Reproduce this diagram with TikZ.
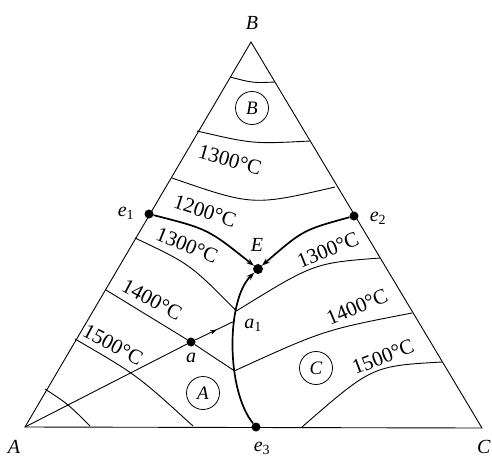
\documentclass[tikz,border=0pt]{standalone}
\usepackage{fontspec}
\setmainfont{Liberation Serif}
\usetikzlibrary{arrows.meta,decorations.markings}

\begin{document}
\begin{tikzpicture}[x=1pt, y=-1pt,
  iso/.style={line width=0.9pt},
  bnd/.style={line width=1.7pt},
  tip/.style={-{Stealth[length=8pt,width=5.5pt]}},
  dot/.style={circle, fill=black, inner sep=0pt, minimum size=9pt},
  temp/.style={font=\fontsize{21}{24}\selectfont, inner sep=0pt},
  lbl/.style={font=\fontsize{20}{22}\selectfont\itshape, inner sep=1pt},
  phase/.style={draw, circle, line width=0.8pt, minimum size=33pt, inner sep=0pt,
    font=\fontsize{19}{21}\selectfont\itshape}
]
\useasboundingbox (0,0) rectangle (492,458);

% triangle
\coordinate (A) at (25,427);
\coordinate (B) at (251,42);
\coordinate (C) at (482,428);
\draw[iso] (A) -- (B) -- (C) -- cycle;

% eutectic points
\node[dot] (e1) at (149,214) {};
\node[dot] (e2) at (354,216) {};
\node[dot] (e3) at (256,427) {};
\node[dot, minimum size=10pt] (E) at (258,269) {};
\node[dot] (a) at (191,342) {};

% boundary curves
\draw[bnd,tip] (e1) .. controls (208,229) .. (E);
\draw[bnd,tip] (e2) .. controls (303,230) .. (E);
\draw[bnd,tip] (e3) .. controls (226,390) and (226,300) .. (E)
  coordinate[pos=0.36] (b4) coordinate[pos=0.64] (b1) coordinate[pos=0.7] (b3);

% crystallisation path
\draw[iso] (A) -- (a);
\draw[iso, postaction={decorate}, decoration={markings,
  mark=at position 0.55 with {\arrow{Stealth[length=7pt,width=4.5pt]}}}] (a) -- (b1);

% isotherms, field B
\draw[iso] (230,77) .. controls (253,83) .. (275,82);
\draw[iso] (197,131) .. controls (253,144) .. (310,141);
\draw[iso] (172,178) .. controls (253,206) .. (335,187);
% isotherms, field A
\draw[iso] (135,238) .. controls (190,264) .. (b3);
\draw[iso] (106,290) -- (a) -- (b4);
\draw[iso] (75,339) .. controls (137,375) .. (193,426);
\draw[iso] (45,389) .. controls (68,404) .. (90,426);
% isotherms, field C
\draw[iso] (b3) .. controls (314,263) .. (380,258);
\draw[iso] (b4) .. controls (324,330) .. (412,313);
\draw[iso] (302,427) .. controls (372,366) .. (442,362);

% temperatures
\node[temp, rotate=-16] (t1) at (230,160) {1300°C};
\node[temp, rotate=-18] (t2) at (205,211) {1200°C};
\node[temp, rotate=-22] (t3) at (187,245) {1300°C};
\node[temp, rotate=-28] (t4) at (152,300) {1400°C};
\node[temp, rotate=-28] (t5) at (113,345) {1500°C};
\node[temp, rotate=22] (t6) at (328,250) {1300°C};
\node[temp, rotate=23] (t7) at (357,307) {1400°C};
\node[temp, rotate=21] (t8) at (383,357) {1500°C};

% primary fields
\node[phase] (pB) at (252,108) {B};
\node[phase] (pA) at (203,393) {A};
\node[phase] (pC) at (316,368) {C};

% labels
\node[lbl] (lB) at (252,23) {B};
\node[lbl] (lA) at (14,447) {A};
\node[lbl, anchor=west] (lC) at (476,447) {C};
\node[lbl] (le1) at (126,213) {e\textsubscript{\upshape 1}};
\node[lbl] (le2) at (378,218) {e\textsubscript{\upshape 2}};
\node[lbl] (le3) at (262,448) {e\textsubscript{\upshape 3}};
\node[lbl] (lE) at (257,245) {E};
\node[lbl] (la) at (191,358) {a};
\node[lbl] (la1) at (253,325) {a\textsubscript{\upshape 1}};
\end{tikzpicture}
\end{document}
